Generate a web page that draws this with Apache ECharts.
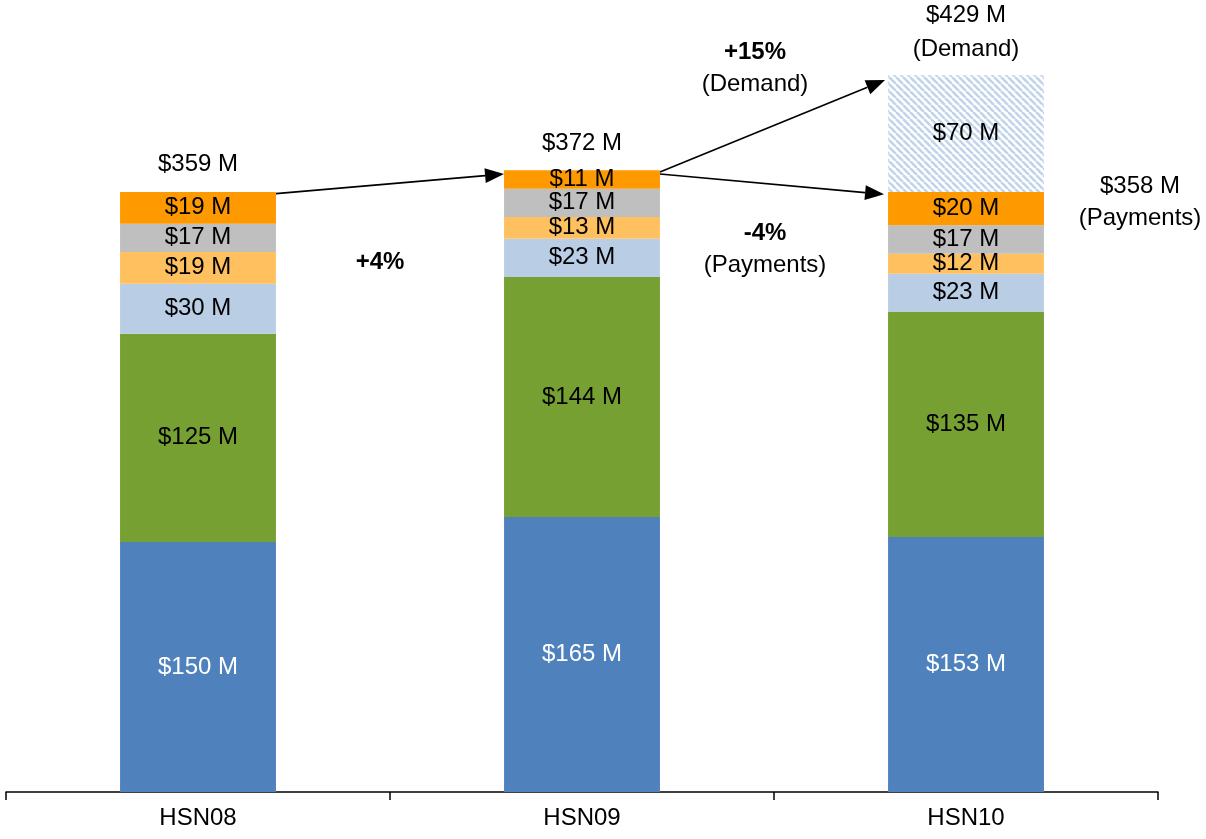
<!DOCTYPE html>
<html>
<head>
<meta charset="utf-8">
<title>HSN</title>
<script src="https://cdn.jsdelivr.net/npm/echarts@6/dist/echarts.min.js"></script>
<style>
html,body{margin:0;padding:0;background:#fff}
#main{width:1206px;height:839px}
</style>
</head>
<body>
<div id="main"></div>
<script>
// data (bottom segment first)
var categories = ['HSN08', 'HSN09', 'HSN10'];
var blueVals = [150, 165, 153];
var greenVals = [125, 144, 135];
var lightBlueVals = [30, 23, 23];
var lightOrangeVals = [19, 13, 12];
var greyVals = [17, 17, 17];
var orangeVals = [19, 11, 20];
var demandVals = ['-', '-', 70];
var totals = [359, 372, 358];
var demandTotal = 429;
var changeLabels = ['+4%', '+15%', '-4%'];

var FONT = '"Liberation Sans", Arial, sans-serif';

// hatch pattern for the demand segment
var T = 7;
var pat = document.createElement('canvas');
pat.width = T; pat.height = T;
var ctx = pat.getContext('2d');
ctx.fillStyle = '#fff';
ctx.fillRect(0, 0, T, T);
ctx.strokeStyle = '#C2D4EA';
ctx.lineWidth = 2.6;
ctx.beginPath();
for (var k = -1; k <= 1; k++) {
    ctx.moveTo(k * T, 0);
    ctx.lineTo(k * T + T, T);
}
ctx.stroke();

function seg(name, vals, color, textColor) {
    return {
        name: name,
        type: 'bar',
        stack: 'total',
        barWidth: '40.6%',
        data: vals,
        itemStyle: {color: color},
        label: {
            show: true,
            position: 'inside',
            color: textColor || '#000',
            fontSize: 24,
            fontFamily: FONT,
            formatter: '${c} M'
        }
    };
}

var chart = echarts.init(document.getElementById('main'), null, {renderer: 'canvas'});
chart.setOption({
    animation: false,
    backgroundColor: '#fff',
    grid: {left: 6, right: 48, top: 42, bottom: 47},
    xAxis: {
        type: 'category',
        data: categories,
        axisLine: {lineStyle: {color: '#000', width: 1.5}},
        axisTick: {show: true, length: 8, lineStyle: {color: '#000', width: 1.5}},
        axisLabel: {color: '#000', fontSize: 24, fontFamily: FONT, margin: 14}
    },
    yAxis: {type: 'value', min: 0, max: 450, show: false},
    series: [
        seg('blue', blueVals, '#4F81BD', '#fff'),
        seg('green', greenVals, '#77A033'),
        seg('lightblue', lightBlueVals, '#B9CDE5'),
        seg('lightorange', lightOrangeVals, '#FFC060'),
        seg('grey', greyVals, '#BFBFBF'),
        seg('orange', orangeVals, '#FF9900'),
        seg('demand', demandVals, {image: pat, repeat: 'repeat'})
    ]
});

function px(i, v) {
    return chart.convertToPixel({gridIndex: 0}, [categories[i], v]);
}

function txt(x, y, s, bold, align) {
    return {
        type: 'text',
        style: {
            text: s, x: x, y: y,
            align: align || 'center', verticalAlign: 'middle',
            fontSize: 24, fontFamily: FONT, fontWeight: bold ? 'bold' : 'normal',
            fill: '#000'
        }
    };
}

function arrow(p0, p1) {
    var dx = p1[0] - p0[0], dy = p1[1] - p0[1];
    var len = Math.sqrt(dx * dx + dy * dy), ux = dx / len, uy = dy / len;
    var hl = 19, hw = 7.5;
    var bx = p1[0] - ux * hl, by = p1[1] - uy * hl;
    return [
        {type: 'line', shape: {x1: p0[0], y1: p0[1], x2: bx, y2: by}, style: {stroke: '#000', lineWidth: 1.6}},
        {type: 'polygon', shape: {points: [[p1[0], p1[1]], [bx - uy * hw, by + ux * hw], [bx + uy * hw, by - ux * hw]]}, style: {fill: '#000'}}
    ];
}

var band = px(1, 0)[0] - px(0, 0)[0];
var half = band * 0.406 / 2;
var c = [px(0, 0)[0], px(1, 0)[0], px(2, 0)[0]];
var top0 = px(0, totals[0])[1], top1 = px(1, totals[1])[1], top2 = px(2, totals[2])[1];
var topD = px(2, demandTotal)[1];
var b01 = (c[0] + c[1]) / 2, b12 = (c[1] + c[2]) / 2;

var g = [];
g = g.concat(arrow([c[0] + half, top0], [c[1] - half, top1 + 2]));
g = g.concat(arrow([c[1] + half, top1], [c[2] - half - 3, topD + 3]));
g = g.concat(arrow([c[1] + half, top1 + 2], [c[2] - half - 4, top2 - 1]));

g.push(txt(c[0], top0 - 29, '$' + totals[0] + ' M'));
g.push(txt(c[1], top1 - 29, '$' + totals[1] + ' M'));
g.push(txt(c[2], topD - 62, '$' + demandTotal + ' M'));
g.push(txt(c[2], topD - 28, '(Demand)'));
g.push(txt(c[2] + 174, top2 - 9, '$' + totals[2] + ' M'));
g.push(txt(c[2] + 174, top2 + 23, '(Payments)'));

g.push(txt(b01 - 10, px(0, 318)[1], changeLabels[0], true));
g.push(txt(b12 - 19, px(0, 444)[1], changeLabels[1], true));
g.push(txt(b12 - 19, px(0, 424.5)[1], '(Demand)'));
g.push(txt(b12 - 9, px(0, 335)[1], changeLabels[2], true));
g.push(txt(b12 - 9, px(0, 316)[1], '(Payments)'));

chart.setOption({graphic: {elements: g}});
</script>
</body>
</html>
